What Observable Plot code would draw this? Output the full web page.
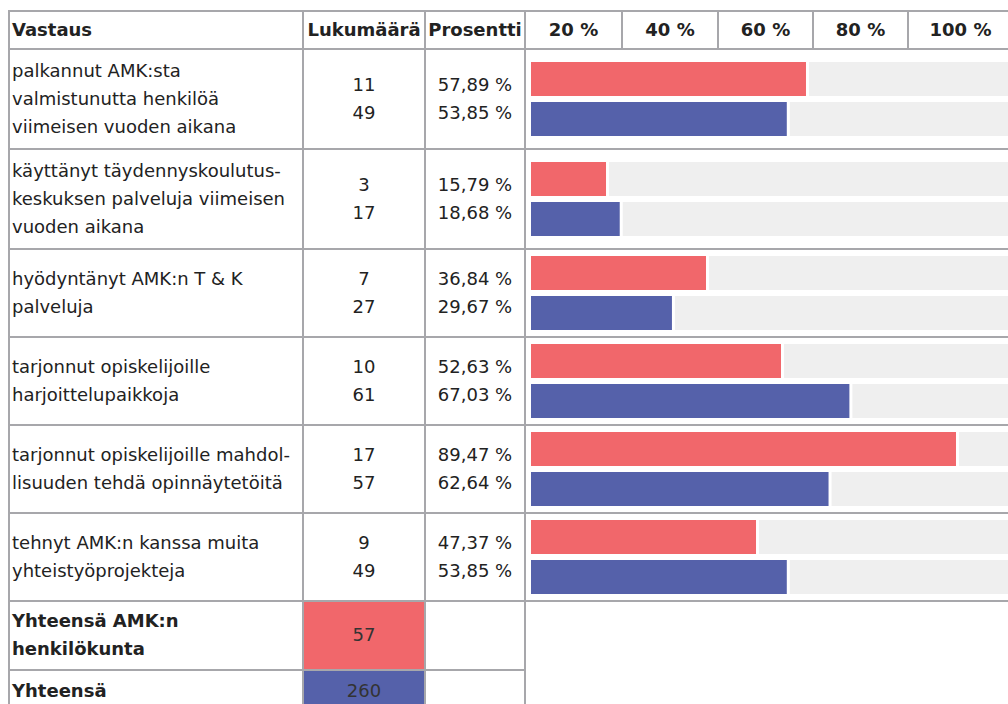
<!DOCTYPE html>
<html>
<head>
<meta charset="utf-8">
<script src="https://cdn.jsdelivr.net/npm/d3@7"></script>
<script src="https://cdn.jsdelivr.net/npm/@observablehq/plot@0.6"></script>
<style>
html, body { margin: 0; padding: 0; background: #fff; }
body { width: 1008px; height: 704px; overflow: hidden; position: relative;
  font-family: "DejaVu Sans", Verdana, sans-serif; font-size: 18px; line-height: 28px; color: #222; }
table { position: absolute; left: 8px; top: 10px; border-collapse: collapse; table-layout: fixed; width: 1004px; }
td, th { border: 2px solid #a7a7ab; padding: 6.85px 1px 6.85px 2px; vertical-align: middle; white-space: nowrap; overflow: hidden; }
th { font-weight: bold; text-align: left; }
th.c, td.c { text-align: center; padding-left: 1px; }
td.chart { padding: 0; }
td.chart svg { display: block; }
tr.head th { padding-top: 4.15px; padding-bottom: 4.15px; }
tr.total th, tr.total td { padding-top: 5.65px; padding-bottom: 5.65px; }
.num { color: #333; }
</style>
</head>
<body>
<table id="tbl">
  <colgroup id="cols"></colgroup>
  <tbody id="body"></tbody>
</table>
<script>
// ---- data ----
const headers = ["Vastaus", "Lukumäärä", "Prosentti"];
const tickLabels = ["20 %", "40 %", "60 %", "80 %", "100 %"];
const answers = [
  ["palkannut AMK:sta", "valmistunutta henkilöä", "viimeisen vuoden aikana"],
  ["käyttänyt täydennyskoulutus-", "keskuksen palveluja viimeisen", "vuoden aikana"],
  ["hyödyntänyt AMK:n T & K", "palveluja"],
  ["tarjonnut opiskelijoille", "harjoittelupaikkoja"],
  ["tarjonnut opiskelijoille mahdol-", "lisuuden tehdä opinnäytetöitä"],
  ["tehnyt AMK:n kanssa muita", "yhteistyöprojekteja"]
];
const seriesNames = [["Yhteensä AMK:n", "henkilökunta"], ["Yhteensä"]];
const seriesKeys = ["Yhteensä AMK:n henkilökunta", "Yhteensä"];
const seriesColors = ["#f1676b", "#5561aa"];
const countsStaff = [11, 3, 7, 10, 17, 9];
const countsAll = [49, 17, 27, 61, 57, 49];
const pctStaff = [57.89, 15.79, 36.84, 52.63, 89.47, 47.37];
const pctAll = [53.85, 18.68, 29.67, 67.03, 62.64, 53.85];
const totals = [57, 260];

// ---- layout ----
const colWidths = [294, 122, 100, 97, 96, 95, 95, 105];
const rowHeights = [38.3, 99.7, 99.7, 88, 88, 88, 88, 69.3, 41.3];
const chartW = 486, chartH = 74;

const fmt = v => v.toFixed(2).replace(".", ",") + " %";

const cols = document.getElementById("cols");
colWidths.forEach(w => { const c = document.createElement("col"); c.style.width = w + "px"; cols.appendChild(c); });

const body = document.getElementById("body");
function row(h, cls) { const tr = document.createElement("tr"); tr.style.height = h + "px"; if (cls) tr.className = cls; body.appendChild(tr); return tr; }
function cell(tr, tag, html, cls) { const c = document.createElement(tag); c.innerHTML = html; if (cls) c.className = cls; tr.appendChild(c); return c; }

// header
const hr = row(rowHeights[0], "head");
cell(hr, "th", headers[0]);
cell(hr, "th", headers[1], "c");
cell(hr, "th", headers[2], "c");
tickLabels.forEach(t => cell(hr, "th", t, "c"));

// data rows
answers.forEach((lines, i) => {
  const tr = row(rowHeights[i + 1]);
  cell(tr, "td", lines.join("<br>"));
  cell(tr, "td", countsStaff[i] + "<br>" + countsAll[i], "c");
  cell(tr, "td", fmt(pctStaff[i]) + "<br>" + fmt(pctAll[i]), "c");
  const chartCell = cell(tr, "td", "", "chart");
  chartCell.colSpan = 5;
  const data = [
    {series: seriesKeys[0], value: pctStaff[i]},
    {series: seriesKeys[1], value: pctAll[i]}
  ];
  const plot = Plot.plot({
    width: chartW, height: chartH,
    marginTop: 0, marginBottom: 0, marginLeft: 0, marginRight: 0,
    style: {background: "transparent", overflow: "visible"},
    x: {domain: [0, 100], range: [5, 480], axis: null},
    y: {type: "band", domain: seriesKeys, range: [0, chartH], paddingInner: 0.15, paddingOuter: 0, axis: null},
    color: {domain: seriesKeys, range: seriesColors},
    marks: [
      Plot.barX(data, {x1: "value", x2: 100, y: "series", fill: "#efefef", insetLeft: 3, insetRight: -10}),
      Plot.barX(data, {x1: 0, x2: "value", y: "series", fill: "series"})
    ]
  });
  chartCell.appendChild(plot);
});

// totals
seriesNames.forEach((lines, k) => {
  const tr = row(rowHeights[7 + k], "total");
  cell(tr, "th", lines.join("<br>"));
  const c = cell(tr, "td", String(totals[k]), "c num");
  c.style.background = seriesColors[k];
  cell(tr, "td", "");
});
</script>
</body>
</html>
